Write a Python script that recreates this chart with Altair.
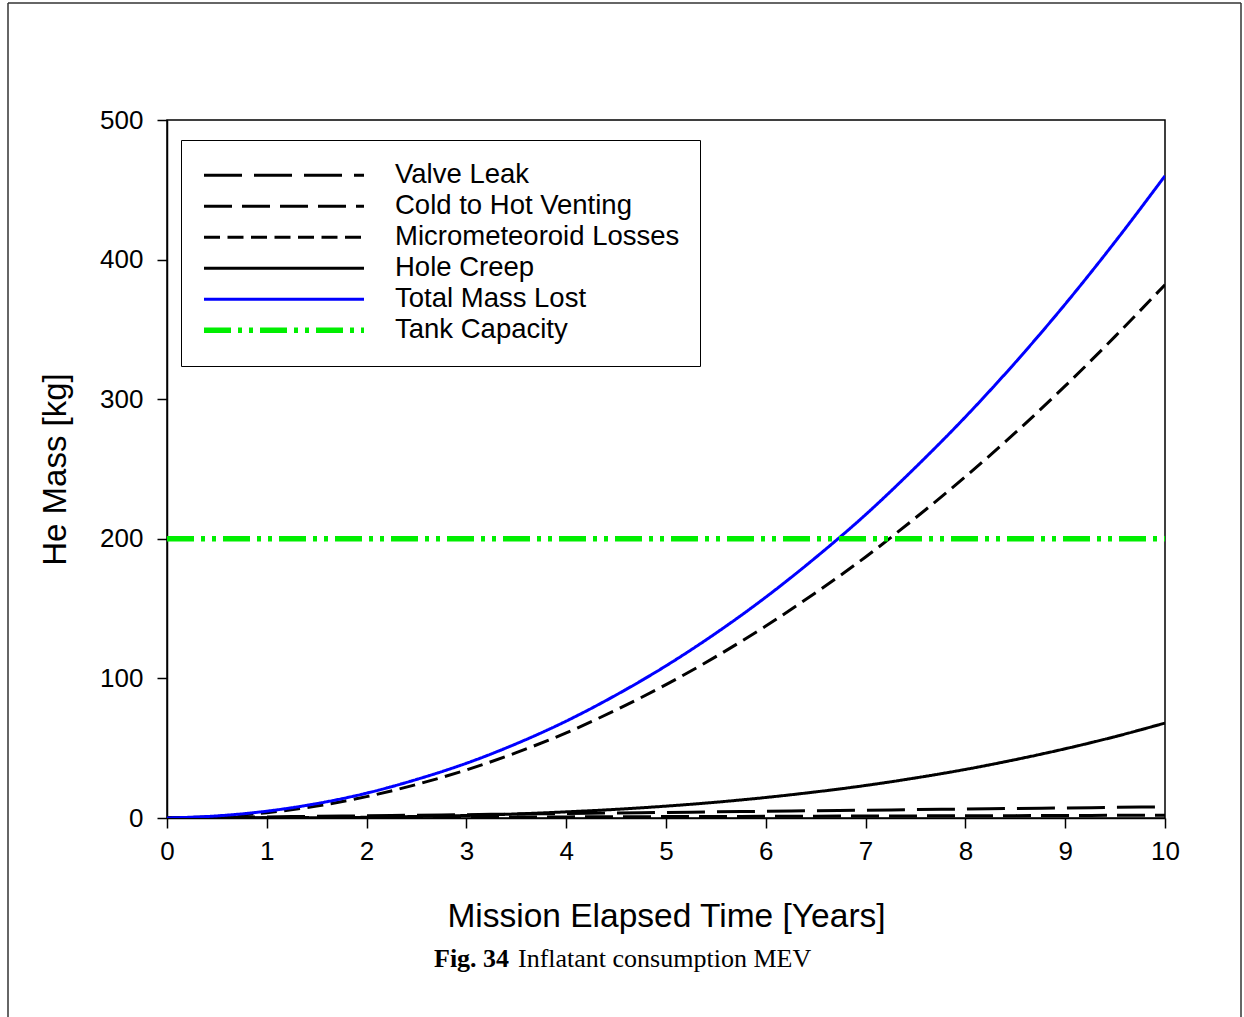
import altair as alt
import pandas as pd

# ---- data ----
years = [0, 0.5, 1, 1.5, 2, 2.5, 3, 3.5, 4, 4.5, 5, 5.5, 6, 6.5, 7, 7.5, 8, 8.5, 9, 9.5, 10]
valve_leak = [0, 0.4, 0.8, 1.2, 1.6, 2.0, 2.4, 2.8, 3.2, 3.6, 4.0, 4.4, 4.8, 5.2, 5.6, 6.0, 6.4, 6.8, 7.2, 7.6, 8.0]
cold_hot = [0, 0.1, 0.2, 0.3, 0.4, 0.5, 0.6, 0.7, 0.8, 0.9, 1.0, 1.1, 1.2, 1.3, 1.4, 1.5, 1.6, 1.7, 1.8, 1.9, 2.0]
micrometeoroid = [0, 1.0, 3.8, 8.6, 15.3, 24.0, 34.4, 46.8, 61.0, 77.4, 95.5, 115.6, 137.5, 161.4, 187.0,
                  215.0, 244.5, 276.0, 309.5, 345.0, 382.0]
hole_creep = [0, 0.0, 0.1, 0.2, 0.5, 1.1, 1.8, 2.9, 4.4, 6.2, 8.5, 11.3, 14.7, 18.7, 23.3, 28.7, 34.8,
              41.8, 49.6, 58.3, 68.0]
total_lost = [0, 1.5, 4.9, 10.3, 17.8, 27.6, 39.2, 53.2, 69.4, 88.1, 109.0, 132.4, 158.2, 186.6, 217.3,
              251.2, 287.3, 326.3, 368.1, 412.8, 460.0]
tank_years = [0, 10]
tank_capacity = [200, 200]

series_names = ["Valve Leak", "Cold to Hot Venting", "Micrometeoroid Losses", "Hole Creep",
                "Total Mass Lost", "Tank Capacity"]
series_colors = ["black", "black", "black", "black", "#0000ff", "#00ee00"]
series_dash = [[38, 12], [28, 10], [16, 7.5], [1, 0], [1, 0], [27, 7, 4, 7, 4, 7]]
series_width = [3, 3, 3, 3, 3, 5.5]

rows = []
for name, vals in zip(series_names[:5], [valve_leak, cold_hot, micrometeoroid, hole_creep, total_lost]):
    for t, v in zip(years, vals):
        rows.append({"series": name, "t": t, "v": v})
for t, v in zip(tank_years, tank_capacity):
    rows.append({"series": "Tank Capacity", "t": t, "v": v})
df = pd.DataFrame(rows)

W, H = 998, 698
LBL = "Liberation Sans"

legend = alt.Legend(
    title=None, orient="none", legendX=14, legendY=20,
    strokeColor="black", fillColor="white", padding=20,
    symbolType="stroke", symbolSize=25600, clipHeight=30.5, rowPadding=0,
    labelFontSize=27.5, labelFont=LBL, labelColor="black", labelOffset=28, labelLimit=600,
)

lines = alt.Chart(df).mark_line(interpolate="monotone", clip=True).encode(
    x=alt.X("t:Q", scale=alt.Scale(domain=[0, 10], nice=False),
            axis=alt.Axis(values=list(range(0, 11)), title="Mission Elapsed Time [Years]",
                          titleY=108, titleBaseline="alphabetic", titleFontSize=33.5,
                          titleFontWeight="normal", titleFont=LBL, titleColor="black",
                          labelFontSize=26, labelPadding=10, labelFont=LBL, labelFlush=False,
                          tickSize=10, grid=False)),
    y=alt.Y("v:Q", scale=alt.Scale(domain=[0, 500], nice=False),
            axis=alt.Axis(values=[0, 100, 200, 300, 400, 500], title="He Mass [kg]",
                          titleX=-112, titleY=H / 2, titleAlign="center", titleBaseline="middle",
                          titleFontSize=33, titleFontWeight="normal", titleFont=LBL,
                          titleColor="black", labelFontSize=26, labelPadding=14, labelFont=LBL,
                          labelFlush=False, tickSize=10, grid=False)),
    color=alt.Color("series:N", scale=alt.Scale(domain=series_names, range=series_colors), legend=legend),
    strokeDash=alt.StrokeDash("series:N", scale=alt.Scale(domain=series_names, range=series_dash), legend=legend),
    strokeWidth=alt.StrokeWidth("series:N", scale=alt.Scale(type="ordinal", domain=series_names, range=series_width), legend=legend),
    order=alt.Order("t:Q"),
)

# outer figure frame (left, top, right)
frame_l = alt.Chart().mark_rule(color="#333333", strokeWidth=1.5).encode(
    x=alt.value(-159), y=alt.value(-117), y2=alt.value(897))
frame_t = alt.Chart().mark_rule(color="#333333", strokeWidth=1.5).encode(
    x=alt.value(-159), x2=alt.value(1074), y=alt.value(-117))
frame_r = alt.Chart().mark_rule(color="#333333", strokeWidth=1.5).encode(
    x=alt.value(1074), y=alt.value(-117), y2=alt.value(897))

cap_bold = alt.Chart().mark_text(align="left", baseline="alphabetic", font="Liberation Serif",
                                  fontSize=26, fontWeight="bold", color="black").encode(
    x=alt.value(267), y=alt.value(847), text=alt.value("Fig. 34"))
cap_text = alt.Chart().mark_text(align="left", baseline="alphabetic", font="Liberation Serif",
                                  fontSize=26, color="black").encode(
    x=alt.value(351), y=alt.value(847), text=alt.value("Inflatant consumption MEV"))

chart = alt.layer(frame_l, frame_t, frame_r, lines, cap_bold, cap_text).properties(
    width=W, height=H,
    padding={"left": 7, "top": 2, "right": 0, "bottom": 0},
    background="white",
).configure_view(stroke="black", strokeWidth=1.5).configure_axis(
    domainColor="black", domainWidth=1.5, tickColor="black", tickWidth=1.5,
    labelColor="black",
)

chart.save("out.html", embed_options={"renderer": "svg", "actions": False})
